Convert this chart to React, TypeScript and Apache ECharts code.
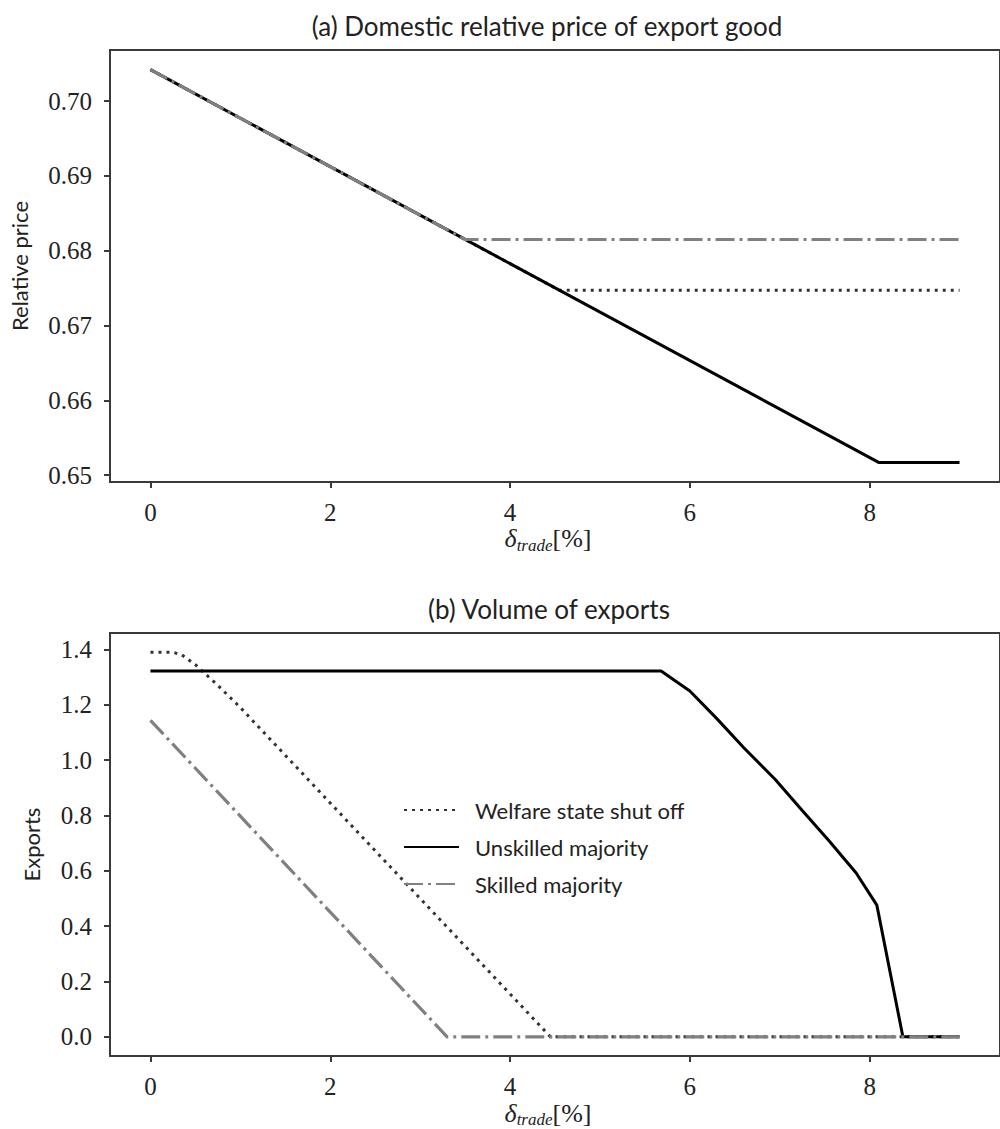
import React, { useEffect, useRef } from "react";
import * as echarts from "echarts";

// ---------- data ----------
const xTicks = [0, 2, 4, 6, 8];
const priceTicks = [0.65, 0.66, 0.67, 0.68, 0.69, 0.7];
const exportTicks = [0, 0.2, 0.4, 0.6, 0.8, 1.0, 1.2, 1.4];

const seriesNames = ["Welfare state shut off", "Unskilled majority", "Skilled majority"];

// (a) Domestic relative price of export good
const priceWelfareX = [0, 4.55, 9];
const priceWelfareY = [0.7042, 0.6747, 0.6747];
const priceUnskilledX = [0, 8.1, 9];
const priceUnskilledY = [0.7042, 0.6517, 0.6517];
const priceSkilledX = [0, 3.5, 9];
const priceSkilledY = [0.7042, 0.6815, 0.6815];

// (b) Volume of exports
const expWelfareX = [0, 0.25, 0.35, 0.5, 0.75, 1.0, 4.45, 9];
const expWelfareY = [1.39, 1.39, 1.38, 1.345, 1.27, 1.19, 0, 0];
const expUnskilledX = [0, 5.68, 6.0, 6.3, 6.6, 6.95, 7.25, 7.55, 7.85, 8.08, 8.37, 9];
const expUnskilledY = [1.322, 1.322, 1.25, 1.15, 1.045, 0.93, 0.818, 0.708, 0.592, 0.476, 0, 0];
const expSkilledX = [0, 3.3, 9];
const expSkilledY = [1.144, 0, 0];

const pairs = (xs: number[], ys: number[]) => xs.map((x, i) => [x, ys[i]]);

const SANS = "Lato";
const SERIF = "Liberation Serif";
const TXT = "#222";
const SPINE = "#3a3a3a";

const styles = [
  { color: "#333333", width: 3, type: [3, 5] as any },
  { color: "#000000", width: 3, type: "solid" as any },
  { color: "#808080", width: 3.2, type: [19, 5, 3, 5] as any },
];

export default function App() {
  const ref = useRef<HTMLDivElement>(null);

  useEffect(() => {
    if (!ref.current) return;
    const chart = echarts.init(ref.current, undefined, { renderer: "svg" });

    const xName = "{a|δ}{b|trade}{c|[%]}";
    const xNameStyle = {
      padding: [0, 14, 0, 0],
      rich: {
        a: { fontFamily: SERIF, fontStyle: "italic", fontSize: 26, color: TXT, lineHeight: 30 },
        b: { fontFamily: SERIF, fontStyle: "italic", fontSize: 17, color: TXT, verticalAlign: "bottom", lineHeight: 30, padding: [10, 0, 0, 0] },
        c: { fontFamily: SERIF, fontSize: 26, color: TXT, lineHeight: 30 },
      },
    };

    const mkX = (gridIndex: number) => ({
      type: "value",
      gridIndex,
      min: -0.45,
      max: 9.45,
      name: xName,
      nameLocation: "middle",
      nameGap: 32,
      nameTextStyle: xNameStyle,
      axisLine: { show: true, onZero: false, lineStyle: { color: SPINE, width: 2 } },
      axisTick: { show: true, inside: false, length: 6, lineStyle: { color: SPINE, width: 2 }, customValues: xTicks },
      axisLabel: {
        show: true,
        margin: 18,
        fontFamily: SERIF,
        fontSize: 25,
        color: TXT,
        customValues: xTicks,
        formatter: (v: number) => String(Math.round(v)),
      },
      splitLine: { show: false },
    });

    const mkY = (gridIndex: number, min: number, max: number, ticks: number[], dec: number, name: string, gap: number) => ({
      type: "value",
      gridIndex,
      min,
      max,
      name,
      nameLocation: "middle",
      nameGap: gap,
      nameTextStyle: { fontFamily: SANS, fontSize: 22, color: TXT },
      axisLine: { show: true, onZero: false, lineStyle: { color: SPINE, width: 2 } },
      axisTick: { show: true, inside: false, length: 6, lineStyle: { color: SPINE, width: 2 }, customValues: ticks },
      axisLabel: {
        show: true,
        margin: 18,
        fontFamily: SERIF,
        fontSize: 25,
        color: TXT,
        customValues: ticks,
        formatter: (v: number) => v.toFixed(dec),
      },
      splitLine: { show: false },
    });

    const mkSeries = (i: number, xi: number, data: number[][]) => ({
      type: "line",
      name: seriesNames[i],
      xAxisIndex: xi,
      yAxisIndex: xi,
      data,
      symbol: "none",
      showSymbol: false,
      lineStyle: { ...styles[i], cap: "butt" },
      itemStyle: { color: styles[i].color },
      z: 2 + i,
    });

    chart.setOption({
      animation: false,
      backgroundColor: "#ffffff",
      graphic: [
        {
          type: "text",
          x: 547,
          y: 26,
          style: {
            text: "(a) Domestic relative price of export good",
            align: "center",
            verticalAlign: "middle",
            fontFamily: SANS,
            fontSize: 26,
            fill: TXT,
          },
        },
        {
          type: "text",
          x: 549,
          y: 609,
          style: {
            text: "(b) Volume of exports",
            align: "center",
            verticalAlign: "middle",
            fontFamily: SANS,
            fontSize: 26,
            fill: TXT,
          },
        },
      ],
      grid: [
        { left: 110, top: 50, width: 894, height: 432, show: true, borderColor: SPINE, borderWidth: 2, backgroundColor: "transparent" },
        { left: 110, top: 633, width: 894, height: 432, show: true, borderColor: SPINE, borderWidth: 2, backgroundColor: "transparent" },
      ],
      xAxis: [mkX(0), mkX(1)],
      yAxis: [
        mkY(0, 0.64908, 0.70683, priceTicks, 2, "Relative price", 80),
        mkY(1, -0.0695, 1.4595, exportTicks, 1, "Exports", 68),
      ],
      legend: {
        data: seriesNames,
        orient: "vertical",
        left: 398,
        top: 794,
        itemWidth: 55,
        itemHeight: 14,
        itemGap: 15,
        itemStyle: { opacity: 0, color: "transparent", borderColor: "transparent", borderWidth: 0 },
        textStyle: { fontFamily: SANS, fontSize: 22, color: TXT, lineHeight: 22, padding: [0, 0, 0, 11] },
      },
      series: [
        mkSeries(0, 0, pairs(priceWelfareX, priceWelfareY)),
        mkSeries(1, 0, pairs(priceUnskilledX, priceUnskilledY)),
        mkSeries(2, 0, pairs(priceSkilledX, priceSkilledY)),
        mkSeries(0, 1, pairs(expWelfareX, expWelfareY)),
        mkSeries(1, 1, pairs(expUnskilledX, expUnskilledY)),
        mkSeries(2, 1, pairs(expSkilledX, expSkilledY)),
      ],
    });

    return () => chart.dispose();
  }, []);

  return (
    <div
      ref={ref}
      style={{ position: "absolute", left: 0, top: 0, width: 1000, height: 1129 }}
    />
  );
}
